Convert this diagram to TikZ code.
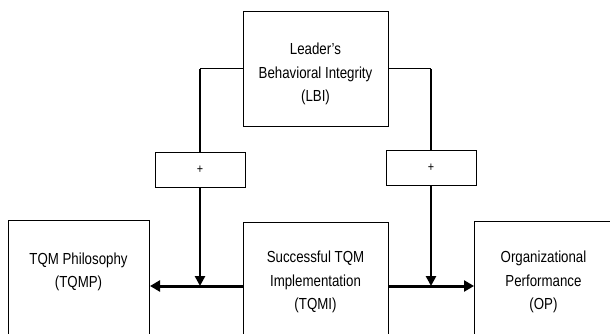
\documentclass[tikz,border=0pt]{standalone}
\usepackage{fontspec}
\setmainfont{Liberation Sans}[FakeStretch=0.83]
\usetikzlibrary{arrows.meta}
\begin{document}
\begin{tikzpicture}[x=1pt,y=-1pt,
  box/.style={draw=black,line width=1pt,minimum width=#1,anchor=north west,inner sep=0pt},
  lbl/.style={align=center,font=\fontsize{16}{23.5}\selectfont,inner sep=0pt},
  plusbox/.style={draw=black,line width=1pt,minimum width=90pt,minimum height=35pt,inner sep=0pt,font=\fontsize{13}{14}\selectfont},
  thinln/.style={line width=1pt},
  thickln/.style={line width=2.6pt},
  arr/.style={line width=3pt,-{Triangle[length=10pt,width=11pt]}}
]
\useasboundingbox (0,0) rectangle (610,334);
\clip (0,0) rectangle (610,334);
\fill[white] (0,0) rectangle (610,334);
% boxes
\node[box=145pt,minimum height=115pt] (lbi) at (243,11) {};
\node[box=141pt,minimum height=140pt] (tqmp) at (8,220) {};
\node[box=145pt,minimum height=140pt] (tqmi) at (243,222) {};
\node[box=150pt,minimum height=140pt] (op) at (474,221) {};
\node[plusbox] (p1) at (200,169.5) {+};
\node[plusbox] (p2) at (431,168) {+};
% labels
\node[lbl] (tlbi) at (315.5,74) {Leader’s\\Behavioral Integrity\\(LBI)};
\node[lbl] (ttqmp) at (78.5,272) {TQM Philosophy\\(TQMP)};
\node[lbl] (ttqmi) at (315.5,282) {Successful TQM\\Implementation\\(TQMI)};
\node[lbl] (top) at (543.5,282) {Organizational\\Performance\\(OP)};
\coordinate (al) at (0,286);
% connectors
\draw[thinln] (lbi.west) -- (lbi.west -| p1.north);
\draw[thickln] (lbi.west -| p1.north) -- (p1.north);
\draw[thinln] (lbi.east) -- (lbi.east -| p2.north);
\draw[thickln] (lbi.east -| p2.north) -- (p2.north);
\draw[arr] (tqmi.west |- al) -- (tqmp.east |- al);
\draw[arr] (tqmi.east |- al) -- (op.west |- al);
\draw[thickln,-{Triangle[length=10pt,width=10pt]}] (p1.south) -- (p1.south |- al);
\draw[thickln,-{Triangle[length=10pt,width=10pt]}] (p2.south) -- (p2.south |- al);
\end{tikzpicture}
\end{document}
